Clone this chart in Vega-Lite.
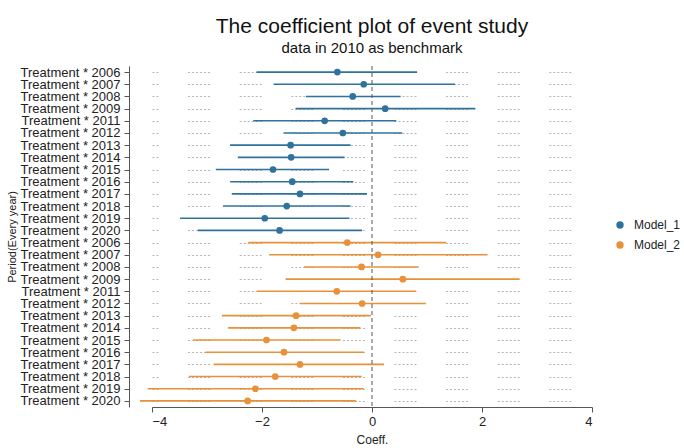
{
  "$schema": "https://vega.github.io/schema/vega-lite/v6.json",
  "autosize": "none",
  "width": 440,
  "height": 341,
  "padding": {"left": 152, "top": 66, "right": 92, "bottom": 41},
  "background": "white",
  "config": {
    "font": "Liberation Sans",
    "view": {"stroke": null},
    "axis": {"labelFont": "Liberation Sans", "titleFont": "Liberation Sans", "labelColor": "#222", "titleColor": "#222", "domainColor": "#555", "tickColor": "#555", "titleFontWeight": "normal"}
  },
  "title": {
    "text": "The coefficient plot of event study",
    "subtitle": "data in 2010 as benchmark",
    "fontSize": 21,
    "fontWeight": "normal",
    "color": "#111",
    "subtitleFontSize": 15,
    "subtitleColor": "#111",
    "subtitleFont": "Liberation Sans",
    "font": "Liberation Sans",
    "anchor": "middle",
    "offset": 10,
    "subtitlePadding": 4
  },
  "datasets": {
    "est": [
      {"key": "M1 2006", "model": "Model_1", "coef": -0.63, "lo": -2.10, "hi": 0.82},
      {"key": "M1 2007", "model": "Model_1", "coef": -0.15, "lo": -1.79, "hi": 1.51},
      {"key": "M1 2008", "model": "Model_1", "coef": -0.35, "lo": -1.20, "hi": 0.52},
      {"key": "M1 2009", "model": "Model_1", "coef": 0.24, "lo": -1.39, "hi": 1.88},
      {"key": "M1 2011", "model": "Model_1", "coef": -0.86, "lo": -2.16, "hi": 0.44},
      {"key": "M1 2012", "model": "Model_1", "coef": -0.53, "lo": -1.61, "hi": 0.55},
      {"key": "M1 2013", "model": "Model_1", "coef": -1.48, "lo": -2.58, "hi": -0.39},
      {"key": "M1 2014", "model": "Model_1", "coef": -1.47, "lo": -2.44, "hi": -0.50},
      {"key": "M1 2015", "model": "Model_1", "coef": -1.80, "lo": -2.84, "hi": -0.78},
      {"key": "M1 2016", "model": "Model_1", "coef": -1.45, "lo": -2.58, "hi": -0.34},
      {"key": "M1 2017", "model": "Model_1", "coef": -1.31, "lo": -2.55, "hi": -0.09},
      {"key": "M1 2018", "model": "Model_1", "coef": -1.55, "lo": -2.71, "hi": -0.39},
      {"key": "M1 2019", "model": "Model_1", "coef": -1.95, "lo": -3.49, "hi": -0.41},
      {"key": "M1 2020", "model": "Model_1", "coef": -1.68, "lo": -3.17, "hi": -0.18},
      {"key": "M2 2006", "model": "Model_2", "coef": -0.45, "lo": -2.25, "hi": 1.35},
      {"key": "M2 2007", "model": "Model_2", "coef": 0.11, "lo": -1.87, "hi": 2.10},
      {"key": "M2 2008", "model": "Model_2", "coef": -0.19, "lo": -1.24, "hi": 0.85},
      {"key": "M2 2009", "model": "Model_2", "coef": 0.56, "lo": -1.57, "hi": 2.68},
      {"key": "M2 2011", "model": "Model_2", "coef": -0.64, "lo": -2.09, "hi": 0.80},
      {"key": "M2 2012", "model": "Model_2", "coef": -0.18, "lo": -1.31, "hi": 0.98},
      {"key": "M2 2013", "model": "Model_2", "coef": -1.38, "lo": -2.73, "hi": -0.02},
      {"key": "M2 2014", "model": "Model_2", "coef": -1.42, "lo": -2.62, "hi": -0.21},
      {"key": "M2 2015", "model": "Model_2", "coef": -1.92, "lo": -3.25, "hi": -0.57},
      {"key": "M2 2016", "model": "Model_2", "coef": -1.60, "lo": -3.03, "hi": -0.15},
      {"key": "M2 2017", "model": "Model_2", "coef": -1.31, "lo": -2.88, "hi": 0.22},
      {"key": "M2 2018", "model": "Model_2", "coef": -1.76, "lo": -3.33, "hi": -0.19},
      {"key": "M2 2019", "model": "Model_2", "coef": -2.12, "lo": -4.08, "hi": -0.15},
      {"key": "M2 2020", "model": "Model_2", "coef": -2.26, "lo": -4.22, "hi": -0.29}
    ]
  },
  "layer": [
    {
      "data": {"name": "est"},
      "mark": {"type": "rule", "strokeWidth": 1.6},
      "encoding": {
        "y": {
          "field": "key", "type": "ordinal", "sort": null,
          "scale": {"type": "point", "padding": 0.5},
          "axis": {
            "title": "Period(Every year)",
            "labelExpr": "'Treatment * ' + substring(datum.value, 3)",
            "labelFontSize": 13,
            "labelPadding": 4,
            "tickSize": 5,
            "offset": 23,
            "titleFontSize": 11,
            "titlePadding": 3,
            "grid": true,
            "gridColor": "#b5b5b5",
            "gridWidth": 1,
            "gridDash": [2, 2, 2, 2, 2, 2, 2, 2, 2, 2, 2, 29.6],
            "gridDashOffset": 16
          }
        },
        "x": {
          "field": "lo", "type": "quantitative",
          "scale": {"domain": [-4, 4], "nice": false, "zero": false},
          "axis": {
            "title": "Coeff.",
            "values": [-4, -2, 0, 2, 4],
            "grid": false,
            "labelFontSize": 13,
            "labelPadding": 3,
            "tickSize": 5,
            "titleFontSize": 12,
            "titlePadding": 6
          }
        },
        "x2": {"field": "hi"},
        "color": {
          "field": "model", "type": "nominal",
          "scale": {"domain": ["Model_1", "Model_2"], "range": ["#2f729d", "#e8913a"]},
          "legend": {
            "title": null,
            "orient": "none",
            "legendX": 462,
            "legendY": 153,
            "labelFontSize": 12,
            "labelColor": "#222",
            "symbolType": "circle",
            "symbolSize": 35,
            "rowPadding": 8,
            "labelOffset": 8
          }
        }
      }
    },
    {
      "data": {"name": "est"},
      "mark": {"type": "point", "filled": true, "opacity": 1, "size": 45},
      "encoding": {
        "y": {"field": "key", "type": "ordinal", "sort": null},
        "x": {"field": "coef", "type": "quantitative"},
        "color": {"field": "model", "type": "nominal"}
      }
    },
    {
      "data": {"values": [{"zero": 0}]},
      "mark": {"type": "rule", "strokeDash": [4, 3], "color": "#555", "strokeWidth": 1},
      "encoding": {"x": {"field": "zero", "type": "quantitative"}}
    }
  ]
}
